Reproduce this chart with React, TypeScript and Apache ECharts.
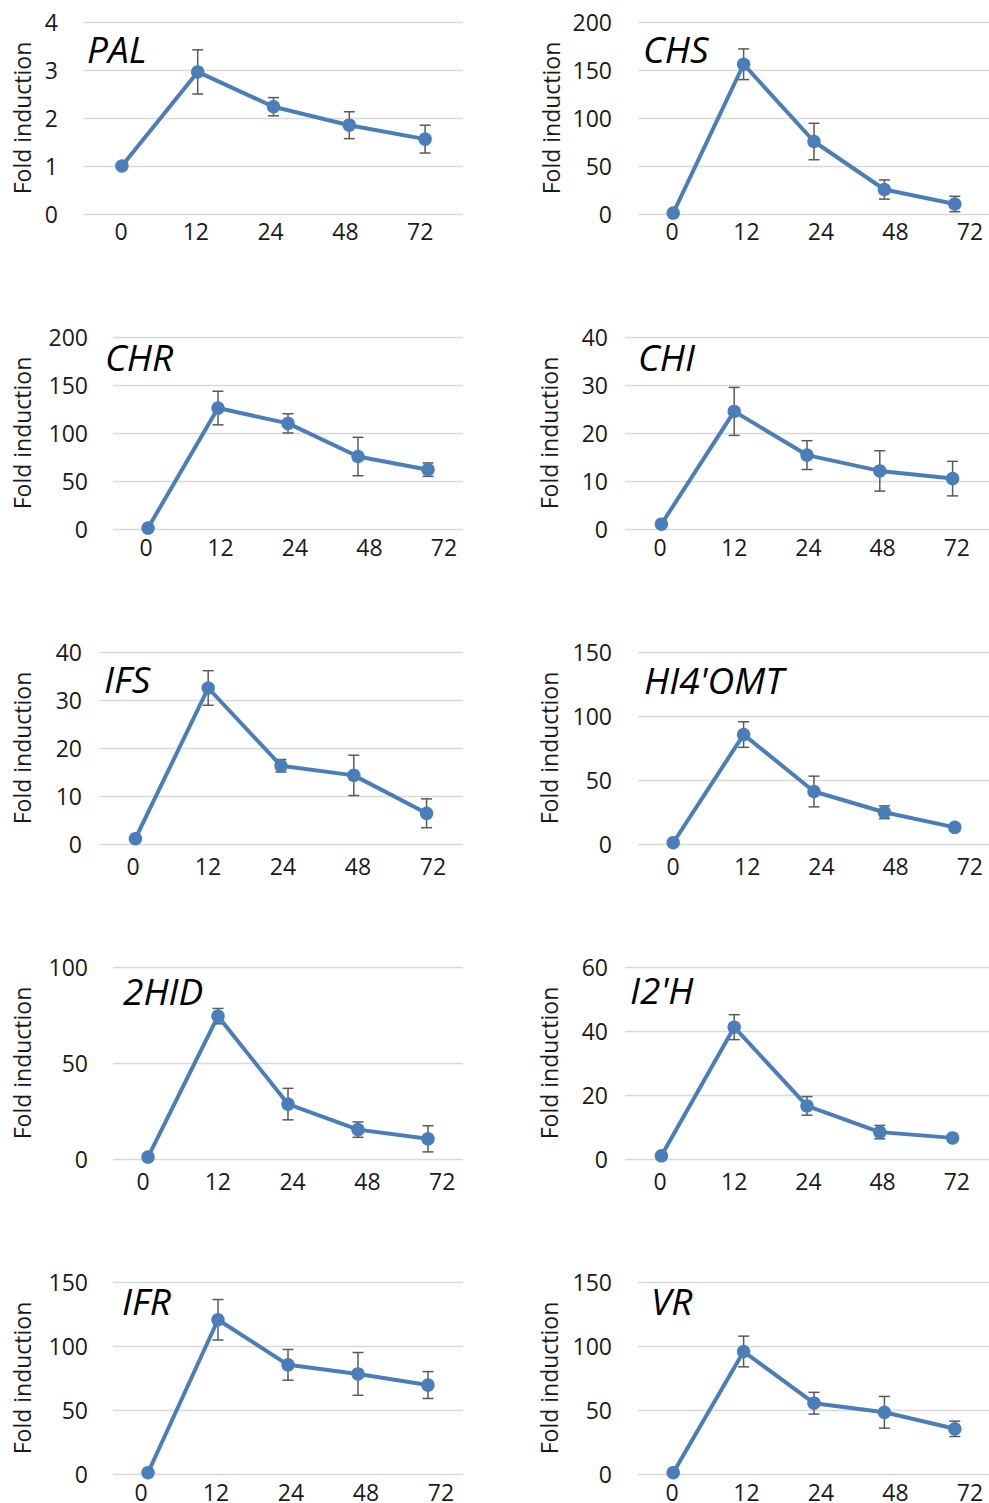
import React, { useEffect, useRef } from "react";
import * as echarts from "echarts";

// ---- data ----
const timePoints = ["0", "12", "24", "48", "72"];
const genes = ["PAL", "CHS", "CHR", "CHI", "IFS", "HI4'OMT", "2HID", "I2'H", "IFR", "VR"];

const palMean = [1, 2.96, 2.235, 1.85, 1.56];
const palErr = [0, 0.46, 0.19, 0.28, 0.29];
const chsMean = [1, 156, 75.5, 25.5, 10.4];
const chsErr = [0, 16, 19, 10, 8];
const chrMean = [1, 126, 110, 75.5, 61.8];
const chrErr = [0, 17.5, 10, 20, 7];
const chiMean = [1, 24.5, 15.4, 12.1, 10.5];
const chiErr = [0, 5, 3, 4.2, 3.6];
const ifsMean = [1.1, 32.5, 16.3, 14.3, 6.4];
const ifsErr = [0, 3.6, 1.3, 4.2, 3];
const hi4Mean = [1, 85.5, 41, 24.8, 13];
const hi4Err = [0, 10, 12, 5, 2.8];
const hidMean = [1, 74.4, 28.6, 15.3, 10.5];
const hidErr = [0, 4, 8.2, 4, 6.8];
const i2hMean = [1, 41.2, 16.6, 8.4, 6.6];
const i2hErr = [0, 3.9, 2.9, 2.1, 1];
const ifrMean = [1, 120.5, 85.3, 78.2, 69.5];
const ifrErr = [0, 15.8, 12, 16.7, 10.5];
const vrMean = [1, 95.7, 55.3, 48.2, 35.3];
const vrErr = [0, 12, 8.5, 12.4, 6];

const means = [palMean, chsMean, chrMean, chiMean, ifsMean, hi4Mean, hidMean, i2hMean, ifrMean, vrMean];
const errs = [palErr, chsErr, chrErr, chiErr, ifsErr, hi4Err, hidErr, i2hErr, ifrErr, vrErr];

const yMax = [4, 200, 200, 40, 40, 150, 100, 60, 150, 150];
const yInterval = [1, 50, 50, 10, 10, 50, 50, 20, 50, 50];
const yTitle = "Fold induction";

// ---- layout (pixels) ----
const rowTops = [22, 337, 652, 967, 1282];
const plotH = 192;
const layout = [
  { dl: 84, dw: 379, ll: 83.6, lw: 374, ylm: 26, xlm: 5, gap: 51, tx: 87, tb: 58 },
  { dl: 638, dw: 352, ll: 634.75, lw: 372.5, ylm: 26, xlm: 5, gap: 76, tx: 643, tb: 58 },
  { dl: 113, dw: 350, ll: 108.75, lw: 372.5, ylm: 25, xlm: 6, gap: 80, tx: 105, tb: 366 },
  { dl: 625, dw: 364, ll: 622.9, lw: 371, ylm: 17, xlm: 6, gap: 65, tx: 638, tb: 366 },
  { dl: 99, dw: 364, ll: 95.5, lw: 375, ylm: 17, xlm: 10, gap: 66, tx: 104, tb: 688 },
  { dl: 638, dw: 352, ll: 635.9, lw: 371, ylm: 26, xlm: 10, gap: 78, tx: 644, tb: 689 },
  { dl: 113, dw: 350, ll: 105.6, lw: 374, ylm: 25, xlm: 10, gap: 80, tx: 123, tb: 1000 },
  { dl: 625, dw: 364, ll: 622.9, lw: 371, ylm: 17, xlm: 10, gap: 65, tx: 630, tb: 999 },
  { dl: 113, dw: 350, ll: 103.5, lw: 375, ylm: 25, xlm: 9, gap: 80, tx: 122, tb: 1310 },
  { dl: 638, dw: 352, ll: 634.75, lw: 372.5, ylm: 26, xlm: 9, gap: 78, tx: 651, tb: 1310 },
];

const FONT = "'Open Sans', 'Liberation Sans', sans-serif";
const LINE_COLOR = "#4a7ebb";
const ERR_COLOR = "#5a5a5a";
const TEXT_COLOR = "#1a1a1a";

function buildOption() {
  const grid: any[] = [];
  const xAxis: any[] = [];
  const yAxis: any[] = [];
  const series: any[] = [];
  const title: any[] = [];

  genes.forEach((g, i) => {
    const L = layout[i];
    const top = rowTops[Math.floor(i / 2)];
    grid.push({ left: L.dl, top, width: L.dw, height: plotH, containLabel: false });
    grid.push({ left: L.ll, top, width: L.lw, height: plotH, containLabel: false });

    const dg = i * 2;
    const lg = i * 2 + 1;

    xAxis.push({
      type: "category",
      gridIndex: dg,
      data: timePoints,
      boundaryGap: true,
      axisLine: { show: false },
      axisTick: { show: false },
      axisLabel: { show: false },
      splitLine: { show: false },
    });
    xAxis.push({
      type: "category",
      gridIndex: lg,
      data: timePoints,
      boundaryGap: true,
      axisLine: { show: false },
      axisTick: { show: false },
      axisLabel: {
        show: true,
        margin: L.xlm,
        fontSize: 23,
        fontFamily: FONT,
        color: TEXT_COLOR,
      },
      splitLine: { show: false },
    });

    yAxis.push({
      type: "value",
      gridIndex: dg,
      min: 0,
      max: yMax[i],
      interval: yInterval[i],
      name: yTitle,
      nameLocation: "middle",
      nameGap: L.gap,
      nameTextStyle: { fontSize: 23, fontFamily: FONT, color: TEXT_COLOR },
      axisLine: { show: false },
      axisTick: { show: false },
      axisLabel: { margin: L.ylm, fontSize: 23, fontFamily: FONT, color: TEXT_COLOR },
      splitLine: { show: true, lineStyle: { color: "#d9d9d9", width: 1.3 } },
    });
    yAxis.push({
      type: "value",
      gridIndex: lg,
      min: 0,
      max: yMax[i],
      show: false,
    });

    const errData = means[i]
      .map((m, k) => [k, m - errs[i][k], m + errs[i][k], errs[i][k]])
      .filter((d) => d[3] > 0);

    series.push({
      type: "custom",
      name: g + " error",
      xAxisIndex: dg,
      yAxisIndex: dg,
      z: 1,
      encode: { x: 0, y: [1, 2] },
      data: errData,
      renderItem: (params: any, api: any) => {
        const x = api.value(0);
        const lo = api.coord([x, api.value(1)]);
        const hi = api.coord([x, api.value(2)]);
        const hw = 5.5;
        const st = { stroke: ERR_COLOR, lineWidth: 1.5 };
        return {
          type: "group",
          children: [
            { type: "line", shape: { x1: hi[0], y1: hi[1], x2: lo[0], y2: lo[1] }, style: st },
            { type: "line", shape: { x1: hi[0] - hw, y1: hi[1], x2: hi[0] + hw, y2: hi[1] }, style: st },
            { type: "line", shape: { x1: lo[0] - hw, y1: lo[1], x2: lo[0] + hw, y2: lo[1] }, style: st },
          ],
        };
      },
    });

    series.push({
      type: "line",
      name: g,
      xAxisIndex: dg,
      yAxisIndex: dg,
      z: 3,
      data: means[i],
      symbol: "circle",
      symbolSize: 13.5,
      lineStyle: { color: LINE_COLOR, width: 4 },
      itemStyle: { color: LINE_COLOR },
    });

    title.push({
      text: g,
      left: L.tx,
      top: L.tb - 28,
      padding: 0,
      textStyle: {
        fontFamily: FONT,
        fontStyle: "italic",
        fontWeight: "normal",
        fontSize: 37,
        color: "#000",
      },
    });
  });

  return { animation: false, backgroundColor: "#ffffff", title, grid, xAxis, yAxis, series };
}

export default function App() {
  const ref = useRef<HTMLDivElement>(null);
  useEffect(() => {
    if (!ref.current) return;
    const chart = echarts.init(ref.current, undefined, { renderer: "svg" });
    chart.setOption(buildOption());
    return () => chart.dispose();
  }, []);
  return (
    <div
      style={{
        position: "absolute",
        left: 0,
        top: 0,
        width: 989,
        height: 1503,
        overflow: "hidden",
        background: "#fff",
      }}
    >
      <div ref={ref} style={{ width: 1012, height: 1503 }} />
    </div>
  );
}
